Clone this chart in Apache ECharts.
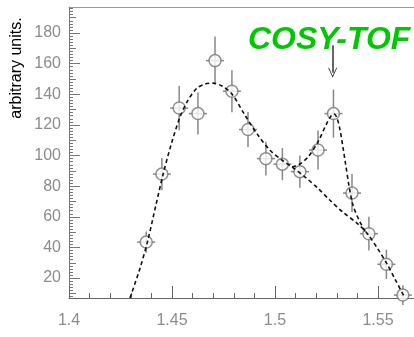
<!DOCTYPE html>
<html>
<head>
<meta charset="utf-8">
<script src="https://cdn.jsdelivr.net/npm/echarts@6/dist/echarts.min.js"></script>
<style>html,body{margin:0;padding:0;background:#fff}#c{width:414px;height:337px}</style>
</head>
<body>
<div id="c"></div>
<script>
// Data points (mass, counts, error)
var ptX = [1.4375, 1.4451, 1.4535, 1.4626, 1.4709, 1.4791, 1.4869, 1.4956, 1.5036, 1.5121, 1.5209, 1.5284, 1.5374, 1.5456, 1.5541, 1.5621];
var ptY = [43.5, 87.9, 131, 127.4, 162, 142, 117, 98, 94.4, 89.5, 103.6, 127.4, 75.5, 49, 29, 8.9];
var ptErr = [7, 10.5, 14.4, 13.7, 15.7, 13.7, 11.4, 11, 10.5, 10.5, 12.7, 15.7, 12.4, 11, 9.5, 6.5];

// Dashed fit curve without the narrow peak
var bgX = [1.4296, 1.4345, 1.4383, 1.4422, 1.4456, 1.4495, 1.4539, 1.4578, 1.4621, 1.4660, 1.4699, 1.4743, 1.4791, 1.4854, 1.4917, 1.4976, 1.5034, 1.5083, 1.5146, 1.5209, 1.5267, 1.5330, 1.5398, 1.5447, 1.5500, 1.5539, 1.5583, 1.5631];
var bgY = [7, 26.5, 44.8, 67.7, 87.3, 106.8, 125.2, 136.2, 144, 146.7, 147.3, 145.4, 140.2, 126.4, 113.4, 103.5, 97, 92.5, 86, 78.6, 70.8, 63, 55.9, 49.3, 38.9, 30.4, 19.3, 7];

// Dashed fit curve with the narrow peak
var pkX = [1.5083, 1.5121, 1.5160, 1.5209, 1.5248, 1.5272, 1.5286, 1.5300, 1.5316, 1.5340, 1.5359, 1.5379, 1.5413, 1.5447];
var pkY = [92.5, 94.5, 99, 109, 120, 125.8, 127.3, 125, 116.6, 97, 80.6, 67.5, 56.5, 48.5];

// Axis ticks
var xLabels = [1.4, 1.45, 1.5, 1.55];
var xMinor = [1.41, 1.42, 1.43, 1.44, 1.46, 1.47, 1.48, 1.49, 1.51, 1.52, 1.53, 1.54, 1.56];
var yLabels = [20, 40, 60, 80, 100, 120, 140, 160, 180];
var yMid = [10, 30, 50, 70, 90, 110, 130, 150, 170, 190];
var yMinor = [];
for (var v = 8; v <= 196; v += 2) { if (v % 10 !== 0) yMinor.push(v); }

var title = 'COSY-TOF';
var yName = 'arbitrary units.';
var arrowX = 1.528, arrowTop = 172, arrowBottom = 154;

var chart = echarts.init(document.getElementById('c'));
var labelColor = '#8c8c8c';
var axisColor = '#777';
var YMIN = 7, YMAX = 197, XMIN = 1.4, XMAX = 1.5675;

function yAx(values, len, showLine, showLabel) {
  return {
    type: 'value', min: YMIN, max: YMAX, position: 'left',
    splitLine: {show: false},
    axisLine: {show: showLine, lineStyle: {color: axisColor, width: 1}},
    axisTick: {show: true, inside: true, length: len, customValues: values, lineStyle: {color: axisColor, width: 1}},
    axisLabel: showLabel ? {show: true, customValues: values, color: labelColor, fontSize: 16, fontFamily: 'Liberation Sans, Arial, sans-serif', margin: 8} : {show: false}
  };
}

var ptData = ptX.map(function (x, i) { return [x, ptY[i], ptErr[i]]; });

chart.setOption({
  animation: false,
  backgroundColor: '#fff',
  title: {
    text: title, left: 243, top: 19,
    textStyle: {color: '#00c800', fontSize: 32, fontStyle: 'italic', fontWeight: 'bold', fontFamily: 'Liberation Sans, Arial, sans-serif'}
  },
  grid: {left: 69, right: 0, top: 7, bottom: 39, containLabel: false},
  graphic: [{
    type: 'text', x: 17, y: 68, rotation: Math.PI / 2,
    style: {text: yName, fill: '#000', fontSize: 16, fontFamily: 'Liberation Sans, Arial, sans-serif', align: 'center', verticalAlign: 'middle'}
  }],
  xAxis: [{
    type: 'value', min: XMIN, max: XMAX, position: 'bottom',
    splitLine: {show: false},
    axisLine: {show: true, onZero: false, lineStyle: {color: '#666', width: 1}},
    axisTick: {show: true, inside: true, length: 12, customValues: xLabels, lineStyle: {color: '#666'}},
    axisLabel: {show: true, customValues: xLabels, color: labelColor, fontSize: 16, fontFamily: 'Liberation Sans, Arial, sans-serif', margin: 15}
  }, {
    type: 'value', min: XMIN, max: XMAX, position: 'bottom',
    splitLine: {show: false},
    axisLine: {show: false, onZero: false},
    axisTick: {show: true, inside: true, length: 5, customValues: xMinor, lineStyle: {color: '#666'}},
    axisLabel: {show: false}
  }, {
    type: 'value', min: XMIN, max: XMAX, position: 'top',
    splitLine: {show: false},
    axisLine: {show: true, onZero: false, lineStyle: {color: '#999', width: 1}},
    axisTick: {show: false}, axisLabel: {show: false}
  }],
  yAxis: [yAx(yLabels, 11, true, true), yAx(yMid, 7, false, false), yAx(yMinor, 4, false, false)],
  series: [{
    type: 'custom', xAxisIndex: 0, yAxisIndex: 0, z: 2,
    data: ptData,
    renderItem: function (params, api) {
      var x = api.value(0), y = api.value(1), e = api.value(2);
      var c = api.coord([x, y]);
      var top = api.coord([x, y + e]);
      var bot = api.coord([x, y - e]);
      var st = {stroke: '#888', lineWidth: 1.5};
      return {
        type: 'group', children: [
          {type: 'line', shape: {x1: top[0], y1: top[1], x2: bot[0], y2: bot[1]}, style: st},
          {type: 'line', shape: {x1: c[0] - 9, y1: c[1], x2: c[0] + 9, y2: c[1]}, style: st}
        ]
      };
    }
  }, {
    type: 'scatter', z: 3, symbol: 'circle', symbolSize: 12,
    data: ptData.map(function (d) { return [d[0], d[1]]; }),
    itemStyle: {color: '#fff', borderColor: '#777', borderWidth: 1.5}
  }, {
    type: 'line', z: 4, smooth: 0.3, symbol: 'none',
    data: bgX.map(function (x, i) { return [x, bgY[i]]; }),
    lineStyle: {color: '#111', width: 1.6, type: [4, 3]},
    markLine: {
      silent: true, symbol: ['none', 'path://M0,10 L5,0 L10,10 L9,10 L5,2.2 L1,10 Z'], symbolSize: [9, 10],
      label: {show: false},
      lineStyle: {color: '#333', width: 1.5, type: 'solid'},
      data: [[{coord: [arrowX, arrowTop]}, {coord: [arrowX, arrowBottom]}]]
    }
  }, {
    type: 'line', z: 4, smooth: 0.3, symbol: 'none',
    data: pkX.map(function (x, i) { return [x, pkY[i]]; }),
    lineStyle: {color: '#111', width: 1.6, type: [4, 3]}
  }]
});
</script>
</body>
</html>
